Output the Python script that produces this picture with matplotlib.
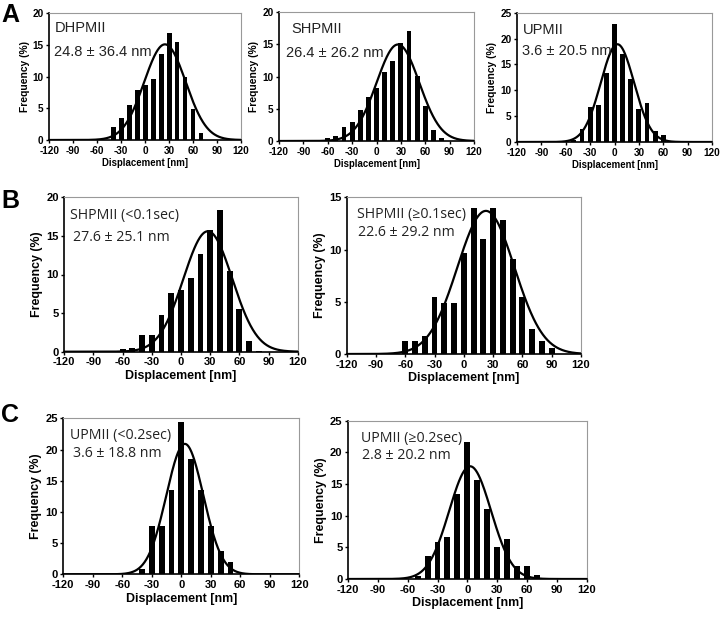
import numpy as np
import matplotlib
matplotlib.use("Agg")
import matplotlib.pyplot as plt

plt.rcParams["axes.unicode_minus"] = False

# ---------------- data ----------------
bins_A1 = [-40, -30, -20, -10, 0, 10, 20, 30, 40, 50, 60, 70]
freq_A1 = [2.0, 3.4, 5.5, 7.9, 8.7, 9.6, 13.5, 16.9, 15.4, 9.9, 4.9, 1.05]

bins_A2 = [-60, -50, -40, -30, -20, -10, 0, 10, 20, 30, 40, 50, 60, 70, 80]
freq_A2 = [0.5, 0.7, 2.1, 3.0, 4.8, 6.9, 8.3, 10.8, 12.4, 15.3, 17.1, 10.1, 5.5, 1.7, 0.4]

bins_A3 = [-50, -40, -30, -20, -10, 0, 10, 20, 30, 40, 50, 60]
freq_A3 = [0.4, 2.5, 6.7, 7.2, 13.4, 22.8, 17.0, 12.2, 6.3, 7.6, 2.1, 1.3]

bins_B1 = [-60, -50, -40, -30, -20, -10, 0, 10, 20, 30, 40, 50, 60, 70, 80]
freq_B1 = [0.3, 0.5, 2.1, 2.1, 4.75, 7.6, 8.0, 9.6, 12.7, 15.8, 18.4, 10.4, 5.5, 1.4, 0.1]

bins_B2 = [-60, -50, -40, -30, -20, -10, 0, 10, 20, 30, 40, 50, 60, 70, 80, 90]
freq_B2 = [1.25, 1.25, 1.75, 5.5, 4.9, 4.9, 9.7, 14.0, 11.0, 14.0, 12.8, 9.1, 5.5, 2.4, 1.25, 0.6]

bins_C1 = [-40, -30, -20, -10, 0, 10, 20, 30, 40, 50]
freq_C1 = [0.8, 7.7, 7.7, 13.5, 24.4, 18.5, 13.5, 7.7, 3.8, 1.9]

bins_C2 = [-50, -40, -30, -20, -10, 0, 10, 20, 30, 40, 50, 60, 70]
freq_C2 = [0.4, 3.6, 5.8, 6.6, 13.4, 21.6, 15.6, 11.05, 5.1, 6.3, 2.1, 2.1, 0.6]

# gaussian fit curves: mean, sd, peak
fit_A1 = (24.8, 26.0, 15.1)
fit_A2 = (26.4, 26.2, 15.0)
fit_A3 = (3.6, 20.5, 18.9)
fit_B1 = (27.6, 25.1, 15.6)
fit_B2 = (22.6, 29.2, 13.7)
fit_C1 = (3.6, 18.8, 20.9)
fit_C2 = (2.8, 21.0, 17.8)

labels = ["DHPMII", "SHPMII", "UPMII", "SHPMII (<0.1sec)", "SHPMII (\u22650.1sec)",
          "UPMII (<0.2sec)", "UPMII (\u22650.2sec)"]
stats = ["24.8 \u00b1 36.4 nm", "26.4 \u00b1 26.2 nm", "3.6 \u00b1 20.5 nm", "27.6 \u00b1 25.1 nm",
         "22.6 \u00b1 29.2 nm", "3.6 \u00b1 18.8 nm", "2.8 \u00b1 20.2 nm"]
ymax = [20, 20, 25, 20, 15, 25, 25]
ystep = [5, 5, 5, 5, 5, 5, 5]
xticks = [-120, -90, -60, -30, 0, 30, 60, 90, 120]

W, H = 720, 617
fig = plt.figure(figsize=(W / 100, H / 100), dpi=100)

# pixel boxes: left, right, top, bottom
boxes = [(49.3, 241, 13.3, 140), (279, 474, 12.3, 141), (517, 712, 12.7, 142),
         (64.3, 297.7, 197.3, 351.7), (346.7, 581, 197.3, 354),
         (63.3, 299.3, 418.3, 574.3), (348, 586.7, 420.7, 579)]
# text positions (axes fraction): (x1, y1top, x2, y2top)
tpos = [(0.03, 0.94, 0.025, 0.75), (0.065, 0.925, 0.036, 0.74), (0.03, 0.923, 0.025, 0.755),
        (0.024, 0.93, 0.039, 0.79), (0.044, 0.94, 0.05, 0.825),
        (0.028, 0.94, 0.04, 0.825), (0.054, 0.935, 0.06, 0.83)]

datasets = [(bins_A1, freq_A1, fit_A1), (bins_A2, freq_A2, fit_A2), (bins_A3, freq_A3, fit_A3),
            (bins_B1, freq_B1, fit_B1), (bins_B2, freq_B2, fit_B2),
            (bins_C1, freq_C1, fit_C1), (bins_C2, freq_C2, fit_C2)]

tickfont = "Liberation Sans"
xs = np.linspace(-120, 120, 500)
for i, ((b, f, fit), box) in enumerate(zip(datasets, boxes)):
    l, r, t, bt = box
    ax = fig.add_axes([l / W, 1 - bt / H, (r - l) / W, (bt - t) / H])
    small = i < 3
    ts = 7.2 if small else 8.0
    xls = 6.9 if small else 8.9
    yls = 7.4 if small else 8.9
    ann = 10.5 if small else 10.2
    ax.bar(b, f, width=6.0, color="black", zorder=2)
    m, s, p = fit
    ax.plot(xs, p * np.exp(-(xs - m) ** 2 / (2 * s ** 2)), color="black", lw=1.6, zorder=3)
    ax.set_xlim(-120, 120)
    ax.set_ylim(0, ymax[i])
    ax.set_xticks(xticks)
    ax.set_yticks(np.arange(0, ymax[i] + 0.1, ystep[i]))
    for lab in ax.get_xticklabels() + ax.get_yticklabels():
        lab.set_fontfamily(tickfont)
        lab.set_fontweight("bold")
        lab.set_fontsize(ts)
    ax.tick_params(axis="both", direction="out", length=2.5, width=1, pad=1.5)
    ax.set_xlabel("Displacement [nm]", fontfamily=tickfont, fontweight="bold", fontsize=xls, labelpad=2)
    ax.set_ylabel("Frequency (%)", fontfamily=tickfont, fontweight="bold", fontsize=yls, labelpad=2)
    for side in ("top", "right"):
        ax.spines[side].set_color("#999999")
        ax.spines[side].set_linewidth(0.8)
    for side in ("left", "bottom"):
        ax.spines[side].set_color("black")
        ax.spines[side].set_linewidth(1.2)
    x1, y1, x2, y2 = tpos[i]
    fam = "Liberation Sans" if small else "Open Sans"
    ax.text(x1, y1, labels[i], transform=ax.transAxes, ha="left", va="top",
            fontsize=ann, fontfamily=[fam, "DejaVu Sans"], color="#222222")
    ax.text(x2, y2, stats[i], transform=ax.transAxes, ha="left", va="top",
            fontsize=ann, fontfamily=[fam, "DejaVu Sans"], color="#222222")

for letter, (px, py) in zip("ABC", [(1, 3), (1, 189), (1, 403)]):
    fig.text(px / W, 1 - py / H, letter, fontsize=18, fontweight="bold",
             fontfamily="Liberation Sans", ha="left", va="top")

fig.savefig("out.png", dpi=100)
